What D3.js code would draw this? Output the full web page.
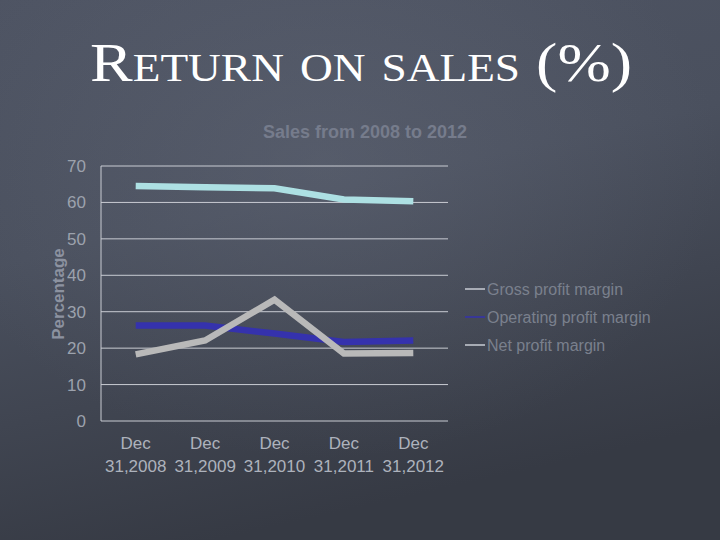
<!DOCTYPE html>
<html><head><meta charset="utf-8">
<script src="https://cdn.jsdelivr.net/npm/d3@7"></script>
<style>html,body{margin:0;padding:0;background:#454a56;}svg{display:block;}</style>
</head><body>
<svg id="c" width="720" height="540"></svg>
<script>
const categories = ["Dec 31,2008","Dec 31,2009","Dec 31,2010","Dec 31,2011","Dec 31,2012"];
const seriesNames = ["Gross profit margin","Operating profit margin","Net profit margin"];
const grossMargin = [64.5, 64.2, 63.9, 60.8, 60.3];
const operatingMargin = [26.2, 26.2, 24.0, 21.7, 22.1];
const netMargin = [18.3, 22.1, 33.3, 18.5, 18.7];
const yTicks = [0,10,20,30,40,50,60,70];
const seriesColors = ["#ade0e3","#3532ad","#b9b9b9"];

(function(){
const svg = d3.select("#c");
const defs = svg.append("defs");
const lg = defs.append("linearGradient").attr("id","bg").attr("x1",0).attr("y1",0).attr("x2",0.3).attr("y2",1);
lg.append("stop").attr("offset","0").attr("stop-color","#4e5463");
lg.append("stop").attr("offset","0.45").attr("stop-color","#4a505e");
lg.append("stop").attr("offset","1").attr("stop-color","#363a44");
svg.append("rect").attr("width",720).attr("height",540).attr("fill","url(#bg)");
const rg = defs.append("radialGradient").attr("id","glow").attr("cx",0.45).attr("cy",0.3).attr("r",0.55);
rg.append("stop").attr("offset","0").attr("stop-color","#6a7080").attr("stop-opacity",0.35);
rg.append("stop").attr("offset","1").attr("stop-color","#6a7080").attr("stop-opacity",0);
svg.append("rect").attr("width",720).attr("height",540).attr("fill","url(#glow)");

// Title
svg.append("text").attr("x",361).attr("y",81).attr("text-anchor","middle")
  .attr("font-family","Liberation Serif, DejaVu Serif, serif").attr("font-size",55)
  .style("font-variant","small-caps").attr("fill","#ffffff")
  .attr("textLength",542).attr("lengthAdjust","spacingAndGlyphs")
  .text("Return on sales (%)");

svg.append("text").attr("x",365).attr("y",138).attr("text-anchor","middle")
  .attr("font-family","Liberation Sans, Arial, sans-serif").attr("font-weight","bold").attr("font-size",18)
  .attr("fill","#767c8c").text("Sales from 2008 to 2012");

const pL = 101, pR = 448, pT = 166, pB = 421;
const x = d3.scaleBand().domain(categories).range([pL,pR]);
const y = d3.scaleLinear().domain([0,70]).range([pB,pT]);

// gridlines
svg.append("g").selectAll("line").data(yTicks).join("line")
  .attr("x1",pL).attr("x2",pR).attr("y1",d=>y(d)).attr("y2",d=>y(d))
  .attr("stroke","#c9ccd3").attr("stroke-width",1);
svg.append("line").attr("x1",pL).attr("x2",pL).attr("y1",pT).attr("y2",pB)
  .attr("stroke","#c9ccd3").attr("stroke-width",1);

// y axis
const yAxis = d3.axisLeft(y).tickValues(yTicks).tickSize(0).tickPadding(15);
const ga = svg.append("g").attr("transform",`translate(${pL},0)`).call(yAxis);
ga.select(".domain").remove();
ga.selectAll("text").attr("font-family","Liberation Sans, Arial, sans-serif").attr("font-size",17).attr("fill","#9ca2ad");

// x axis
const xAxis = d3.axisBottom(x).tickSize(0).tickFormat("");
const gx = svg.append("g").attr("transform",`translate(0,${pB})`).call(xAxis);
gx.select(".domain").remove();
gx.selectAll(".tick").each(function(d){
  const parts = d.split(" ");
  const t = d3.select(this).append("text").attr("text-anchor","middle")
    .attr("font-family","Liberation Sans, Arial, sans-serif").attr("font-size",17).attr("fill","#adb2bc");
  t.append("tspan").attr("x",0).attr("y",28).text(parts[0]);
  t.append("tspan").attr("x",0).attr("y",51).text(parts[1]);
});

// y label
svg.append("text").attr("transform","translate(64,294) rotate(-90)").attr("text-anchor","middle")
  .attr("font-family","Liberation Sans, Arial, sans-serif").attr("font-weight","bold").attr("font-size",17)
  .attr("fill","#8c92a0").text("Percentage");

// lines
const allSeries = [grossMargin, operatingMargin, netMargin];
const line = d3.line().x((d,i)=>x(categories[i])+x.bandwidth()/2).y(d=>y(d));
svg.append("g").selectAll("path").data(allSeries).join("path")
  .attr("d",line).attr("fill","none")
  .attr("stroke",(d,i)=>seriesColors[i]).attr("stroke-width",6.5)
  .attr("stroke-linejoin","miter");

// legend
const lgG = svg.append("g").selectAll("g").data(seriesNames).join("g")
  .attr("transform",(d,i)=>`translate(465,${289+i*28})`);
lgG.append("line").attr("x1",0).attr("x2",20).attr("y1",0).attr("y2",0)
  .attr("stroke",(d,i)=>i===1?"#3532ad":"#c8ccd4").attr("stroke-width",1.5);
lgG.append("text").attr("x",22).attr("y",6).attr("font-family","Liberation Sans, Arial, sans-serif")
  .attr("font-size",16).attr("fill","#7a808d").text(d=>d);
})();
</script>
</body></html>
